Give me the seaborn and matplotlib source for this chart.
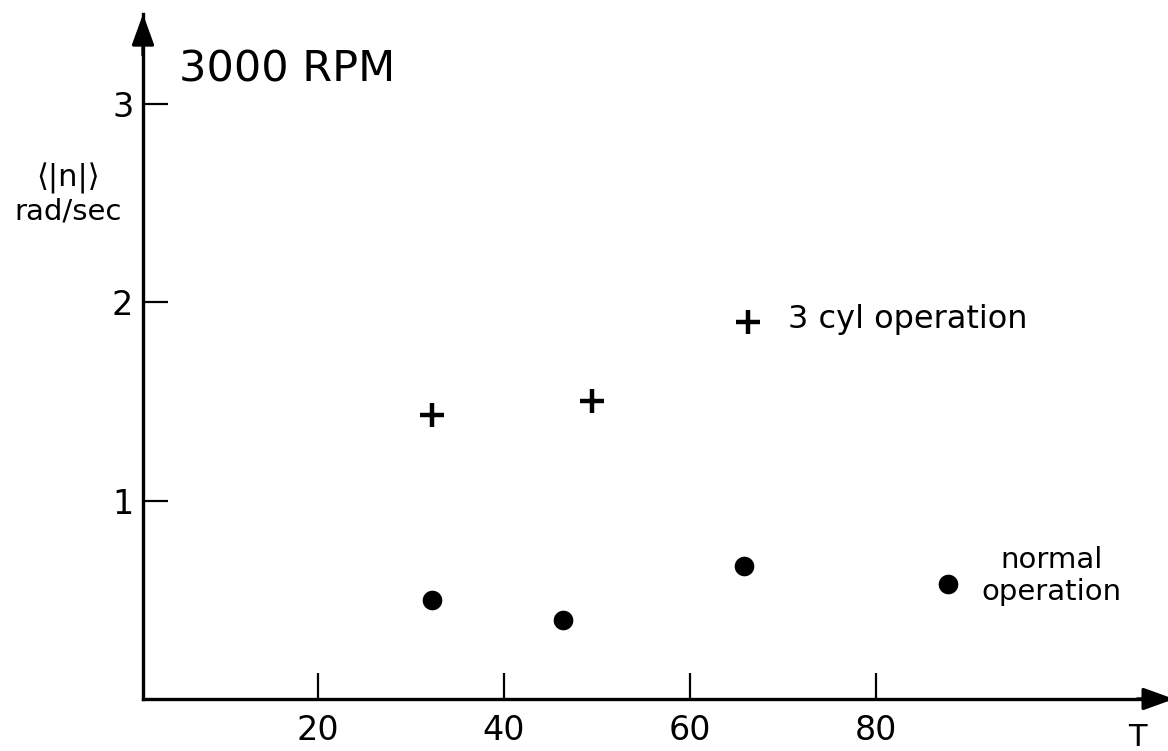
import matplotlib
matplotlib.use("Agg")
import matplotlib.pyplot as plt
import seaborn as sns
import pandas as pd

# Measured torque T vs mean |n| (rad/sec) at 3000 RPM
normal_T = [32.3, 46.3, 65.8, 87.7]
normal_n = [0.50, 0.40, 0.67, 0.58]
cyl3_T = [32.3, 49.5, 66.2]
cyl3_n = [1.43, 1.50, 1.90]

x_ticks = [20, 40, 60, 80]
y_ticks = [1, 2, 3]

sns.set_style("white")
plt.rcParams["font.family"] = ["DejaVu Sans"]
plt.rcParams["text.color"] = "black"

W, H = 1168, 751
fig = plt.figure(figsize=(W / 100, H / 100), dpi=100)
ax_left, ax_right, ax_bottom, ax_top = 143, 1168, 699, 14
ax = fig.add_axes([ax_left / W, (H - ax_bottom) / H,
                   (ax_right - ax_left) / W, (ax_bottom - ax_top) / H])

normal = pd.DataFrame({"T": normal_T, "n": normal_n})
cyl3 = pd.DataFrame({"T": cyl3_T, "n": cyl3_n})

sns.scatterplot(data=normal, x="T", y="n", marker="o", s=200, color="black",
                edgecolor="black", linewidth=0, ax=ax, legend=False)
sns.scatterplot(data=cyl3, x="T", y="n", marker="+", s=300, color="black",
                linewidth=3.2, ax=ax, legend=False)

px_per_T = 9.3
px_per_n = 198.5
ax.set_xlim((ax_left - 132) / px_per_T, (ax_right - 132) / px_per_T)
ax.set_ylim(0, (ax_bottom - ax_top) / px_per_n)

# only the left and bottom axis lines, drawn heavy
for side in ("top", "right"):
    ax.spines[side].set_visible(False)
for side in ("left", "bottom"):
    ax.spines[side].set_linewidth(2.4)
    ax.spines[side].set_color("black")

ax.set_xticks(x_ticks)
ax.set_yticks(y_ticks)
ax.set_xticklabels([str(v) for v in x_ticks])
ax.set_yticklabels([str(v) for v in y_ticks])
ax.tick_params(axis="x", direction="in", length=19, width=1.6, pad=11,
               labelsize=24, colors="black", bottom=True)
ax.tick_params(axis="y", direction="in", length=18, width=1.6, pad=7,
               labelsize=24, colors="black", left=True)
ax.set_xlabel("")
ax.set_ylabel("")

# arrowheads at the ends of both axes
head = "-|>,head_length=0.47,head_width=0.17"
ax.annotate("", xy=(1.006, 0), xytext=(0.97, 0), xycoords="axes fraction",
            arrowprops=dict(arrowstyle=head, mutation_scale=40, color="black",
                            lw=2.4, shrinkA=0, shrinkB=0),
            annotation_clip=False)
ax.annotate("", xy=(0, 1.0), xytext=(0, 0.94), xycoords="axes fraction",
            arrowprops=dict(arrowstyle=head, mutation_scale=40, color="black",
                            lw=2.4, shrinkA=0, shrinkB=0),
            annotation_clip=False)

# titles and labels
fig.text(179 / W, 1 - 69 / H, "3000 RPM", fontsize=31, ha="left", va="center")
fig.text(68 / W, 1 - 178 / H, "⟨|n|⟩", fontsize=22, ha="center", va="center")
fig.text(68 / W, 1 - 211 / H, "rad/sec", fontsize=21, ha="center", va="center")
fig.text(1137 / W, 1 - 737 / H, "T", fontsize=22, ha="center", va="center")

ax.annotate("3 cyl operation", xy=(cyl3_T[-1], cyl3_n[-1]), xytext=(40, 2),
            textcoords="offset pixels", fontsize=23, ha="left", va="center")
ax.annotate("normal\noperation", xy=(normal_T[-1], normal_n[-1]),
            xytext=(104, 8), textcoords="offset pixels", fontsize=21,
            ha="center", va="center", linespacing=1.15)

fig.savefig("out.png", dpi=100, facecolor="white")
